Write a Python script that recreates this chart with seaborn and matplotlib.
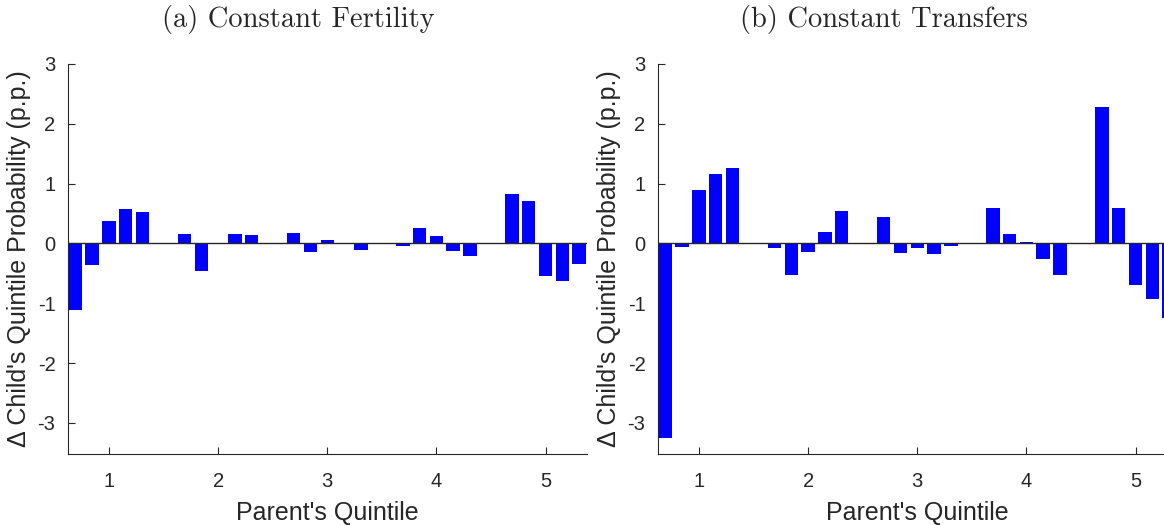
import pandas as pd
import seaborn as sns
from matplotlib import pyplot as plt

# parent's quintile groups, one bar per child's quintile inside each group
parent_q = ["1", "2", "3", "4", "5"]
child_q = ["1", "2", "3", "4", "5"]

# (a) constant fertility, rows = parent's quintile
fert_q1 = [-1.11, -0.36, 0.37, 0.57, 0.52]
fert_q2 = [0.16, -0.46, -0.01, 0.16, 0.14]
fert_q3 = [0.17, -0.145, 0.065, -0.01, -0.11]
fert_q4 = [-0.05, 0.25, 0.12, -0.12, -0.21]
fert_q5 = [0.82, 0.71, -0.55, -0.635, -0.345]

# (b) constant transfers
trans_q1 = [-3.26, -0.06, 0.89, 1.165, 1.255]
trans_q2 = [-0.07, -0.53, -0.145, 0.195, 0.535]
trans_q3 = [0.45, -0.167, -0.078, -0.178, -0.045]
trans_q4 = [0.59, 0.156, 0.017, -0.268, -0.52]
trans_q5 = [2.28, 0.585, -0.70, -0.93, -1.24]

titles = ["(a) Constant Fertility", "(b) Constant Transfers"]
y_ticks = [-3, -2, -1, 0, 1, 2, 3]
y_ticklabels = ["-3", "-2", "-1", "0", "1", "2", "3"]


def to_frame(rows):
    records = []
    for p, vals in zip(parent_q, rows):
        for c, v in zip(child_q, vals):
            records.append({"parent": p, "child": c, "delta": v})
    return pd.DataFrame(records)


sns.set_style("white")
plt.rcParams["font.family"] = ["Liberation Sans", "DejaVu Sans"]

fig = plt.figure(figsize=(11.64, 5.25), dpi=100)
ax_l = fig.add_axes([68 / 1164, 1 - 454 / 525, 518.5 / 1164, 390 / 525])
ax_r = fig.add_axes([658 / 1164, 1 - 454 / 525, 518.5 / 1164, 390 / 525])

panels = [
    (ax_l, to_frame([fert_q1, fert_q2, fert_q3, fert_q4, fert_q5])),
    (ax_r, to_frame([trans_q1, trans_q2, trans_q3, trans_q4, trans_q5])),
]

axis_col = "#262626"
for ax, df in panels:
    sns.barplot(data=df, x="parent", y="delta", hue="child", order=parent_q,
                hue_order=child_q, palette=["#0000ff"] * 5, width=0.769,
                gap=0.2, saturation=1, legend=False, linewidth=0, ax=ax)
    ax.axhline(0, color=axis_col, lw=1, zorder=3)
    ax.set_xlim(-0.375, 4.375)
    ax.set_ylim(-3.52, 3)
    ax.set_yticks(y_ticks)
    ax.set_yticklabels(y_ticklabels)
    ax.set_xticks(range(5))
    ax.set_xticklabels(parent_q)
    for side in ["top", "right"]:
        ax.spines[side].set_visible(False)
    for side in ["left", "bottom"]:
        ax.spines[side].set_color(axis_col)
        ax.spines[side].set_linewidth(0.8)
    ax.tick_params(bottom=True, left=True, direction="in", length=5, width=0.8,
                   color=axis_col, labelsize=14.5, labelcolor=axis_col)
    ax.tick_params(axis="x", pad=13)
    ax.tick_params(axis="y", pad=9)
    ax.set_xlabel("Parent's Quintile", fontsize=18, color=axis_col, labelpad=7)
    ax.set_ylabel("\u0394 Child's Quintile Probability (p.p.)", fontsize=18,
                  color=axis_col)
    ax.yaxis.set_label_coords(-0.072, 0.5)

fig.text(298 / 1164, 1 - 20 / 525, titles[0], fontsize=20.5, family="cmr10",
         ha="center", va="center")
fig.text(884 / 1164, 1 - 20 / 525, titles[1], fontsize=20.5, family="cmr10",
         ha="center", va="center")

plt.savefig("out.png", dpi=100)
